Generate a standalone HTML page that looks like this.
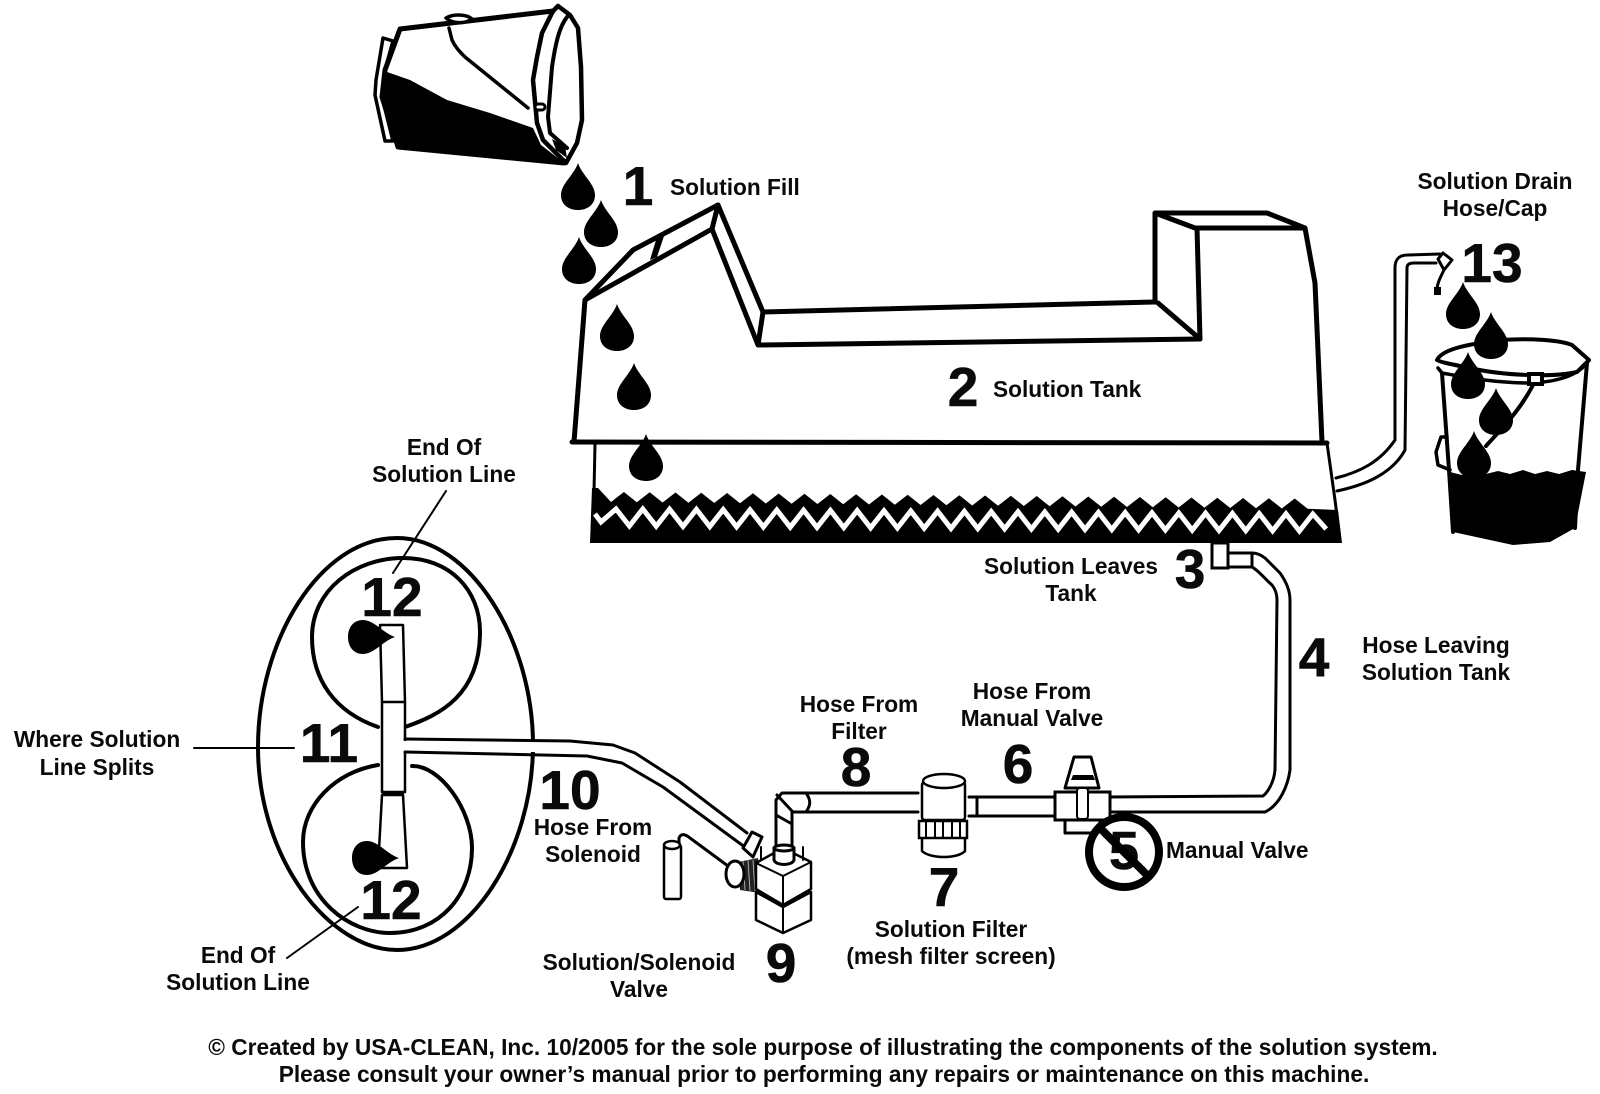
<!DOCTYPE html>
<html><head><meta charset="utf-8"><title>Solution System Diagram</title>
<style>
html,body{margin:0;padding:0;background:#fff}
svg{display:block}
text{font-family:"Liberation Sans",sans-serif;font-weight:bold;fill:#0a0a0a}
.l{font-size:22.7px;text-anchor:middle}
.s{font-size:22.7px}
.n{font-size:55px;text-anchor:middle;stroke:#0a0a0a;stroke-width:.6px}
.k{fill:none;stroke:#000;stroke-width:4;stroke-linejoin:round;stroke-linecap:round}
.t{fill:none;stroke:#000;stroke-width:3;stroke-linejoin:round;stroke-linecap:round}
.h{fill:#fff;stroke:#000;stroke-width:3;stroke-linejoin:round}
.f{fill:none;stroke:#000;stroke-width:2;stroke-linecap:round}
</style></head>
<body>
<svg width="1600" height="1094" viewBox="0 0 1600 1094" xmlns="http://www.w3.org/2000/svg">
<defs><path id="d" d="M0 0C4 12 17 21 17 32C17 42 9 47 0 47C-9 47 -17 42 -17 32C-17 21 -4 12 0 0Z" fill="#000"/></defs>
<rect width="1600" height="1094" fill="#fff"/>

<!-- Pouring bucket -->
<g>
<path class="k" d="M383 38L393 41L385 70L382 97L393 141L385 141L375 95L376 80Z" style="fill:#fff;stroke-width:3.5"/>
<path d="M387 72L410 80L447 100L490 113L533 128L541 145L563 162L398 147L383 97Z" fill="#000"/>
<path d="M552 139L565 146L567 158L556 150Z" fill="#000"/>
<path class="k" style="stroke-width:5" d="M400 29L553 11M400 29L385 70L382 97L398 147L564 163"/>
<path class="k" style="stroke-width:3.5;fill:#fff" d="M446 18C455 13 468 15 472 19C465 24 452 24 446 18Z"/>
<path class="k" style="stroke-width:3.5" d="M449 28L452 40C455 47 460 52 465 57L528 108"/>
<path class="k" style="stroke-width:4.5" d="M553 11L558 6L570 15L578 28L581 67L582 120L577 143L566 163L563 160L543 140L537 123L533 80L537 57L542 33Z"/>
<path class="k" d="M567 17C560 26 556 40 552 67L548 117L550 133L567 148"/>
<rect x="535" y="104" width="10" height="6" rx="3" fill="#fff" stroke="#000" stroke-width="3"/>
</g>

<!-- Tank -->
<g>
<path d="M585 300L633 250L718 205L763 312L1155 302L1155 213L1267 213L1305 228L1315 283L1322 442L1327 443L1340 540L590 540L594 442L574 442Z" fill="#fff"/>
<path class="k" style="stroke-width:5" d="M574 442L585 300L633 250L718 205L763 312L1155 302"/>
<path class="k" style="stroke-width:5" d="M585 300L712 229M718 205L712 229L758 345L1200 339M763 312L758 345"/>
<path d="M656 240L664 236L657 257L650 260Z" fill="#000"/>
<path class="k" style="stroke-width:5" d="M1155 302L1155 213L1267 213L1305 228L1195 228L1155 213M1197 228L1200 339L1158 303M1305 228L1315 283L1322 442"/>
<path class="k" style="stroke-width:5" d="M572 442L1327 443"/>
<path class="k" style="stroke-width:3" d="M595 444L594 492M1327 443L1335 500L1340 540"/>
<path d="M592 488L598 488L611 502l12.9 -10l12.9 10.25l12.9 -10l12.9 10.25l12.9 -10l12.9 10.25l12.9 -10l12.9 10.25l12.9 -10l12.9 10.25l12.9 -10l12.9 10.25l12.9 -10l12.9 10.25l12.9 -10l12.9 10.25l12.9 -10l12.9 10.25l12.9 -10l12.9 10.25l12.9 -10l12.9 10.25l12.9 -10l12.9 10.25l12.9 -10l12.9 10.25l12.9 -10l12.9 10.25l12.9 -10l12.9 10.25l12.9 -10l12.9 10.25l12.9 -10l12.9 10.25l12.9 -10l12.9 10.25l12.9 -10l12.9 10.25l12.9 -10l12.9 10.25l12.9 -10l12.9 10.25l12.9 -10l12.9 10.25l12.9 -10l12.9 10.25l12.9 -10l12.9 10.25l12.9 -10l12.9 10.25l12.9 -10l12.9 10.25l12.9 -10l12.9 10.25L1338 510L1342 543L590 543Z" fill="#000"/>
<path fill="none" stroke="#fff" stroke-width="5" stroke-linejoin="miter" d="M595 514L601 522L616 509l13.4 17l13.4 -17l13.4 17.2l13.4 -17l13.4 17.2l13.4 -17l13.4 17.2l13.4 -17l13.4 17.2l13.4 -17l13.4 17.2l13.4 -17l13.4 17.2l13.4 -17l13.4 17.2l13.4 -17l13.4 17.2l13.4 -17l13.4 17.2l13.4 -17l13.4 17.2l13.4 -17l13.4 17.2l13.4 -17l13.4 17.2l13.4 -17l13.4 17.2l13.4 -17l13.4 17.2l13.4 -17l13.4 17.2l13.4 -17l13.4 17.2l13.4 -17l13.4 17.2l13.4 -17l13.4 17.2l13.4 -17l13.4 17.2l13.4 -17l13.4 17.2l13.4 -17l13.4 17.2l13.4 -17l13.4 17.2l13.4 -17l13.4 17.2l13.4 -17l13.4 17.2l13.4 -17l13.4 17.2l13.4 -17l13.4 15"/>
</g>

<!-- Tank drain hose -->
<path class="t" d="M1336 478C1360 472 1380 462 1395 440L1395 268C1395 258 1400 255 1408 255L1440 254"/>
<path class="t" d="M1337 491C1365 485 1392 474 1405 450L1407 268C1407 264 1410 263 1414 263L1436 263"/>
<path class="h" style="stroke-width:3" d="M1438 259L1443 253L1452 260L1444 270Z"/>
<path class="t" d="M1444 270C1440 278 1438 282 1437 288"/>
<rect x="1434" y="287" width="7" height="8" fill="#000"/>

<!-- Drain bucket -->
<g>
<path d="M1450 472l12 3l12 -4l12 3l12 -3l12 3l13 -4l12 4l12 -3l12 3l13 -4l14 2L1575 528L1550 542L1513 545L1453 532Z" fill="#000"/>
<path class="k" d="M1442 373L1449 470L1453 532M1587 363L1578 470L1575 528"/>
<path class="k" d="M1437 360C1442 350 1462 345 1500 340C1530 338 1560 340 1572 345L1589 360L1577 372C1550 378 1500 375 1470 368C1450 364 1440 362 1437 360Z" style="fill:#fff"/>
<path class="k" style="stroke-width:3.5" d="M1438 368L1442 373C1470 378 1490 382 1525 383C1550 383 1575 378 1587 363L1589 360"/>
<rect x="1529" y="374" width="13" height="10" fill="#fff" stroke="#000" stroke-width="4"/>
<path class="k" d="M1533 385C1520 410 1505 425 1486 446"/>
<path class="k" style="stroke-width:3.5" d="M1450 470L1438 465L1436 452L1441 437L1447 437"/>
</g>

<!-- Drops -->
<use href="#d" x="578" y="163"/><use href="#d" x="601" y="200"/><use href="#d" x="579" y="237"/>
<use href="#d" x="617" y="304"/><use href="#d" x="634" y="363"/><use href="#d" x="646" y="434"/>
<use href="#d" x="1463" y="282"/><use href="#d" x="1491" y="312"/><use href="#d" x="1468" y="352"/>
<use href="#d" x="1496" y="388"/><use href="#d" x="1474" y="431"/>

<!-- Outlet and hose 4 -->
<rect x="1212" y="543" width="16" height="25" fill="#fff" stroke="#000" stroke-width="3"/>
<rect x="1228" y="553" width="24" height="14" fill="#fff" stroke="#000" stroke-width="3"/>
<path class="t" d="M1252 553C1258 553 1262 556 1265 558L1280 573C1285 580 1290 590 1290 600L1290 770C1288 785 1280 805 1265 812L1108 812"/>
<path class="t" d="M1252 567C1258 570 1266 580 1272 585C1276 590 1277 595 1277 600L1275 770C1274 782 1268 792 1263 796L1108 797"/>

<!-- Oval / brush deck -->
<path class="k" d="M397 538C470 538 533 640 533 745C533 850 470 950 397 950C330 950 258 860 258 747C258 640 320 538 397 538Z"/>
<path class="k" d="M378 727C335 712 312 680 312 637C312 590 355 558 403 558C450 558 480 590 480 632C480 695 440 715 405 727"/>
<path class="k" d="M378 765C335 772 303 805 303 842C303 900 350 933 390 933C440 933 472 895 472 848C472 810 440 765 412 766"/>
<path class="h" style="stroke-width:2.5" d="M380 625L403 625L405 702L382 702ZM382 702L405 702L405 792L382 792ZM382 795L403 795L407 868L378 868Z"/>
<path d="M382 791h22v4h-22z" fill="#000"/>
<path fill="#fff" d="M400 741h140v11h-140z"/>
<path class="t" d="M405 739L570 741L613 745L635 753L680 782L747 833"/>
<path class="t" d="M405 752L587 756L622 763L663 787L742 845"/>
<use href="#d" transform="translate(395 637) rotate(90)"/>
<use href="#d" transform="translate(399 858) rotate(90)"/>

<!-- Leader lines -->
<path class="f" d="M194 748H294M446 491L393 573M358 907L287 958"/>

<!-- Lower pipes -->
<path class="t" d="M806 793H918M800 812H918M806 793C811 800 811 805 806 812"/>
<path class="t" d="M776 847L776 800L782 793H806M792 847V812H800M777 795L792 811M776 815L792 824"/>
<path class="t" d="M969 797H1054M969 816H1054M977 797V816"/>

<!-- Filter -->
<rect x="922" y="782" width="43" height="38" fill="#fff" stroke="#000" stroke-width="2.5" rx="3"/>
<ellipse cx="944" cy="781" rx="21" ry="7" fill="#fff" stroke="#000" stroke-width="2.5"/>
<path class="h" style="stroke-width:2.5" d="M922 837H965V851C958 859 930 859 922 851Z"/>
<rect x="919" y="821" width="48" height="17" fill="#fff" stroke="#000" stroke-width="2.5"/>
<path class="f" d="M926 821v17M935 821v17M943 821v17M952 821v17M960 821v17M922 820H965"/>

<!-- Manual valve -->
<path class="h" d="M1074 757H1091L1099 788H1065Z"/>
<path d="M1073 775H1093L1095 780H1071Z" fill="#000"/>
<path class="h" d="M1065 818V833H1100V818"/>
<rect x="1055" y="792" width="55" height="28" fill="#fff" stroke="#000" stroke-width="3"/>
<rect x="1077" y="788" width="11" height="31" rx="3" fill="#fff" stroke="#000" stroke-width="2"/>
<circle cx="1124" cy="852" r="35" fill="#fff" stroke="#000" stroke-width="8"/>
<text class="n" x="1124" y="869" style="font-size:54px">5</text>
<path d="M1098 826L1150 878" stroke="#000" stroke-width="8"/>

<!-- Solenoid -->
<path class="t" d="M679 845L679 838C681 833 685 834 690 838L728 866"/>
<rect x="664" y="845" width="17" height="54" rx="2" fill="#fff" stroke="#000" stroke-width="2.5"/>
<ellipse cx="672" cy="845" rx="8" ry="4" fill="#fff" stroke="#000" stroke-width="2.5"/>
<path d="M738 862L758 858L760 893L740 890Z" fill="#222"/>
<path d="M743 861L745 890M748 860L750 891M753 860L755 891" stroke="#aaa" stroke-width="1"/>
<ellipse cx="735" cy="874" rx="9" ry="13" fill="#fff" stroke="#000" stroke-width="3"/>
<path class="h" d="M752 832L762 837L753 857L743 848Z"/>
<path class="h" style="stroke-width:2.5" d="M756 892L783 907L811 892V920L783 933L756 920Z"/>
<path class="h" style="stroke-width:2.5" d="M756 863L783 848L811 862V889L783 905L756 889Z"/>
<path class="f" d="M756 863L783 876L811 862M783 876V905M783 908V933"/>
<path class="h" style="stroke-width:3" d="M774 848V860C776 866 792 866 794 860V848Z"/>
<ellipse cx="784" cy="848" rx="10" ry="3" fill="#fff" stroke="#000" stroke-width="3"/>
<path class="f" d="M761 847V860M803 847V860"/>

<!-- Labels -->
<text class="n" x="638" y="205">1</text>
<text class="s" x="670" y="195">Solution Fill</text>
<text class="n" x="963" y="406">2</text>
<text class="s" x="993" y="397">Solution Tank</text>
<text class="l" x="1495" y="189">Solution Drain</text>
<text class="l" x="1495" y="216">Hose/Cap</text>
<text class="n" x="1492" y="282">13</text>
<text class="l" x="444" y="455">End Of</text>
<text class="l" x="444" y="482">Solution Line</text>
<text class="l" x="1071" y="574">Solution Leaves</text>
<text class="l" x="1071" y="601">Tank</text>
<text class="n" x="1190" y="588">3</text>
<text class="n" x="1314" y="676">4</text>
<text class="l" x="1436" y="653">Hose Leaving</text>
<text class="l" x="1436" y="680">Solution Tank</text>
<text class="l" x="1032" y="699">Hose From</text>
<text class="l" x="1032" y="726">Manual Valve</text>
<text class="n" x="1018" y="783">6</text>
<text class="l" x="859" y="712">Hose From</text>
<text class="l" x="859" y="739">Filter</text>
<text class="n" x="856" y="786">8</text>
<text class="n" x="944" y="906">7</text>
<text class="l" x="951" y="937">Solution Filter</text>
<text class="l" x="951" y="964">(mesh filter screen)</text>
<text class="s" x="1166" y="858">Manual Valve</text>
<text class="n" x="781" y="982">9</text>
<text class="l" x="639" y="970">Solution/Solenoid</text>
<text class="l" x="639" y="997">Valve</text>
<text class="n" x="570" y="809">10</text>
<text class="l" x="593" y="835">Hose From</text>
<text class="l" x="593" y="862">Solenoid</text>
<text class="n" x="329" y="762">11</text>
<text class="n" x="392" y="616">12</text>
<text class="n" x="391" y="919">12</text>
<text class="l" x="97" y="747">Where Solution</text>
<text class="l" x="97" y="775">Line Splits</text>
<text class="l" x="238" y="963">End Of</text>
<text class="l" x="238" y="990">Solution Line</text>
<text class="l" x="823" y="1055">© Created by USA-CLEAN, Inc. 10/2005 for the sole purpose of illustrating the components of the solution system.</text>
<text class="l" x="824" y="1082">Please consult your owner’s manual prior to performing any repairs or maintenance on this machine.</text>
</svg>
</body></html>
